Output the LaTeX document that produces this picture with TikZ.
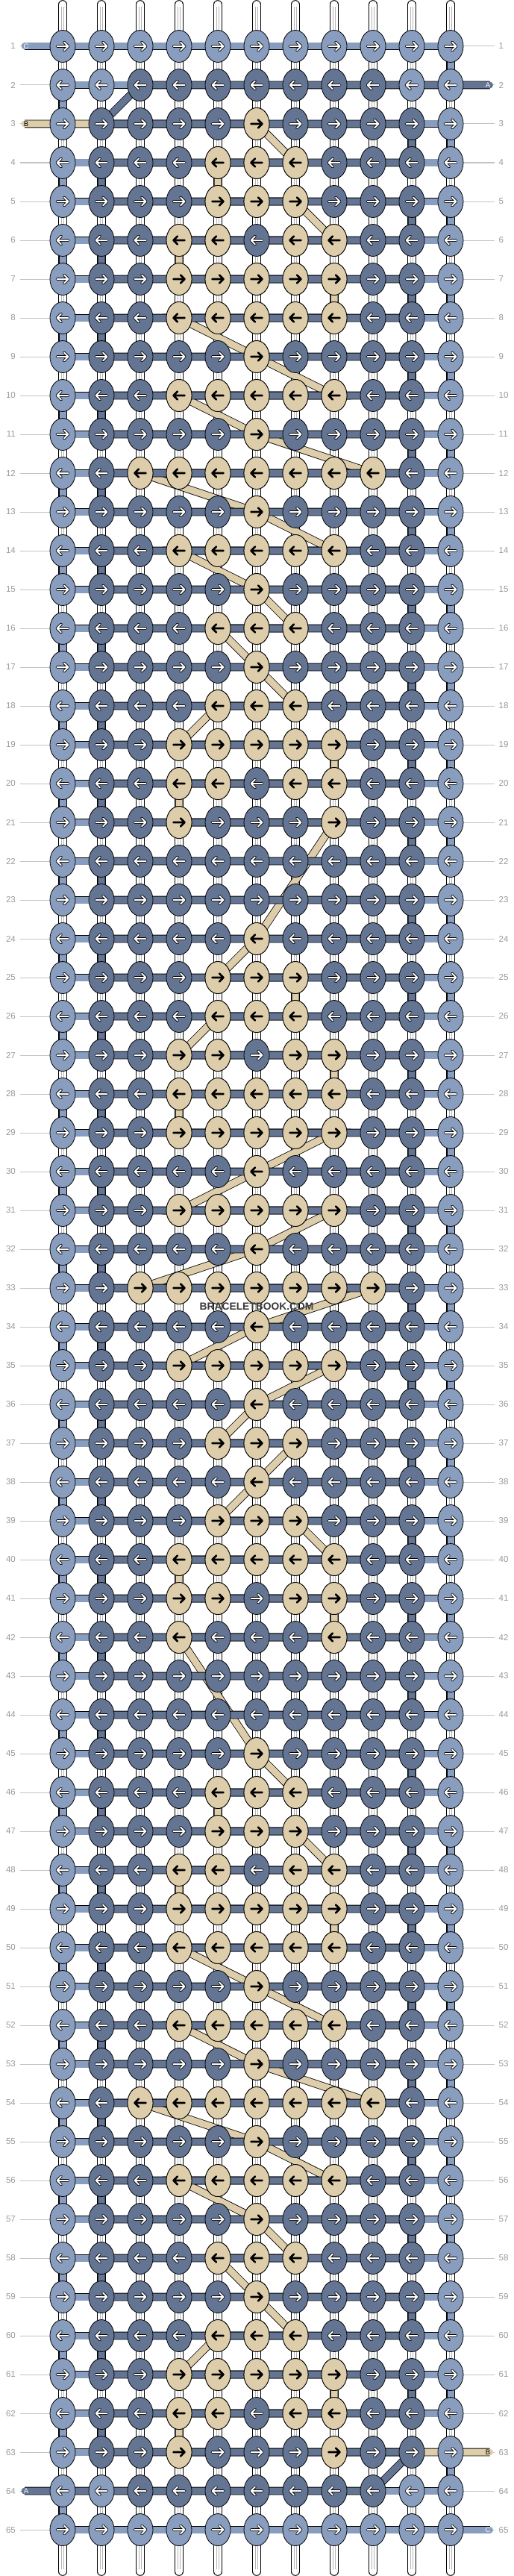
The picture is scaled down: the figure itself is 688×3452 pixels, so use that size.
\documentclass[tikz,border=0pt]{standalone}
\usepackage{fontspec}
\setmainfont{Liberation Sans}
\usetikzlibrary{shapes.geometric}
\definecolor{colC}{HTML}{899DBE}
\definecolor{colA}{HTML}{647594}
\definecolor{colB}{HTML}{DDCDAA}
\definecolor{lblgray}{HTML}{9A9A9A}
\definecolor{linegray}{HTML}{C4C4C4}
\definecolor{basegray}{HTML}{B4B4B4}
\definecolor{wmark}{HTML}{3A3A3A}
\tikzset{
  knot/.style={ellipse, draw=black, line width=0.8, minimum width=34, minimum height=43, inner sep=0},
  strand/.style={line width=9, line join=round, line cap=round, preaction={draw=black, line width=10.6}},
  arrowline/.style={line cap=round, line join=round},
  rowlbl/.style={text=lblgray, font=\fontsize{11.5}{12}\selectfont, inner sep=0},
  endlbl/.style={font=\fontsize{9.5}{10}\selectfont, inner sep=0},
  wmk/.style={font=\bfseries\fontsize{13.8}{14}\selectfont, text=wmark, inner sep=0}
}
\newcommand\warrow[2]{%
  \begin{scope}[shift={(#1)},xscale=#2]
    \draw[arrowline, black, line width=3.6] (-7.5,0)--(7.5,0) (2,-5.5)--(7.5,0)--(2,5.5);
    \draw[arrowline, white, line width=2] (-7.5,0)--(7.5,0) (2,-5.5)--(7.5,0)--(2,5.5);
  \end{scope}}
\newcommand\barrow[2]{%
  \begin{scope}[shift={(#1)},xscale=#2]
    \draw[arrowline, black, line width=2.6] (-7.5,0)--(7.5,0) (2,-5.5)--(7.5,0)--(2,5.5);
  \end{scope}}
\begin{document}
\begin{tikzpicture}[x=1pt,y=-1pt]
\useasboundingbox (0,0) rectangle (688,3452);
\fill[white] (0,0) rectangle (688,3452);
% grid coordinates
\foreach \c in {1,...,11} {
  \foreach \r in {1,...,65} {
    \coordinate (p-\c-\r) at ({344+52*(\c-6)},{62+52*(\r-1)});
  }
  \coordinate (top-\c) at ({344+52*(\c-6)},6);
  \coordinate (bot-\c) at ({344+52*(\c-6)},3446);
  \coordinate (topi-\c) at ({344+52*(\c-6)},9);
  \coordinate (boti-\c) at ({344+52*(\c-6)},3443);
}
% base strings
\foreach \c in {1,...,11} {
  \draw[black, line width=11.6, line cap=round] (top-\c) -- (bot-\c);
  \draw[white, line width=9.8, line cap=round] (top-\c) -- (bot-\c);
  \draw[basegray, line width=0.7] ([xshift=-1.8]topi-\c) -- ([xshift=-1.8]boti-\c);
  \draw[basegray, line width=0.7] ([xshift=1.8]topi-\c) -- ([xshift=1.8]boti-\c);
}
% row lines and numbers
\foreach \r in {1,...,65} {
  \pgfmathsetmacro\yy{62+52*(\r-1)}
  \coordinate (ll-\r) at (26.5,\yy);
  \coordinate (rl-\r) at (663,\yy);
  \draw[linegray, line width=1] (ll-\r) -- (p-1-\r);
  \draw[linegray, line width=1] (p-11-\r) -- (rl-\r);
  \node[rowlbl, anchor=east] (nl-\r) at (21,\yy) {\r};
  \node[rowlbl, anchor=west] (nr-\r) at (668.5,\yy) {\r};
}
% string ends
\coordinate (cS) at (33,62);
\coordinate (cE) at (656.5,3390);
\coordinate (aS) at (656.5,114);
\coordinate (aE) at (33,3338);
\coordinate (bS) at (33,166);
\coordinate (bE) at (656.5,3286);
% string C
\draw[strand, draw=colC] (cS) -- (p-1-1)
  \foreach \r [evaluate=\r as \ra using int(\r+1), evaluate=\r as \rb using int(\r+2)] in {1,3,...,63} { -- (p-11-\r) -- (p-11-\ra) -- (p-1-\ra) -- (p-1-\rb) }
  -- (p-11-65) -- (cE);
% string B
\draw[strand, draw=colB] (bS)
  \foreach \c/\r in {6/3,7/4,5/4,5/5,7/5,8/6,4/6,4/7,8/7,8/8,4/8,6/9,8/10,4/10,6/11,9/12,3/12,6/13,8/14,4/14,6/15,7/16,5/16,6/17,7/18,5/18,4/19,8/19,8/20,4/20,4/21,8/21,6/24,5/25,7/25,7/26,5/26,4/27,8/27,8/28,4/28,4/29,8/29,6/30,4/31,8/31,6/32,3/33,9/33,6/34,4/35,8/35,6/36,5/37,7/37,6/38,5/39,7/39,8/40,4/40,4/41,8/41,8/42,4/42,6/45,7/46,5/46,5/47,7/47,8/48,4/48,4/49,8/49,8/50,4/50,6/51,8/52,4/52,6/53,9/54,3/54,6/55,8/56,4/56,6/57,7/58,5/58,6/59,7/60,5/60,4/61,8/61,8/62,4/62,4/63,8/63} { -- (p-\c-\r) }
  -- (bE);
% string A
\draw[strand, draw=colA] (aS) -- (p-3-2)
  \foreach \r [evaluate=\r as \ra using int(\r+1)] in {3,5,...,61} { -- (p-2-\r) -- (p-10-\r) -- (p-10-\ra) -- (p-2-\ra) }
  -- (p-2-63) -- (p-10-63) -- (p-9-64) -- (p-3-64) -- (aE);
% end letters
\node[endlbl, text=white] (eC1) at (35,62) {C};
\node[endlbl, text=white] (eA1) at (654,114) {A};
\node[endlbl, text=black] (eB1) at (35,166) {B};
\node[endlbl, text=black] (eB2) at (654,3286) {B};
\node[endlbl, text=white] (eA2) at (35,3338) {A};
\node[endlbl, text=white] (eC2) at (654,3390) {C};
% knots
\foreach \r in {1,...,65} {
  \foreach \c in {1,...,11} {
    \pgfmathtruncatemacro\isC{((\r==1)||(\r==65)||(\c==1)||(\c==11)||(((\r==2)||(\r==64))&&((\c==2)||(\c==10))))}
    \ifnum\isC=1\relax\def\kc{colC}\else\def\kc{colA}\fi
    \node[knot, fill=\kc] (k-\c-\r) at (p-\c-\r) {};
    \ifodd\r\relax\warrow{p-\c-\r}{1}\else\warrow{p-\c-\r}{-1}\fi
  }
}
% tan knots
\foreach \r/\cols in {3/{6},4/{5,6,7},5/{5,6,7},6/{4,5,7,8},7/{4,5,6,7,8},8/{4,5,6,7,8},9/{6},10/{4,5,6,7,8},11/{6},12/{3,4,5,6,7,8,9},13/{6},14/{4,5,6,7,8},15/{6},16/{5,6,7},17/{6},18/{5,6,7},19/{4,5,6,7,8},20/{4,5,7,8},21/{4,8},24/{6},25/{5,6,7},26/{5,6,7},27/{4,5,7,8},28/{4,5,6,7,8},29/{4,5,6,7,8},30/{6},31/{4,5,6,7,8},32/{6},33/{3,4,5,6,7,8,9},34/{6},35/{4,5,6,7,8},36/{6},37/{5,6,7},38/{6},39/{5,6,7},40/{4,5,6,7,8},41/{4,5,7,8},42/{4,8},45/{6},46/{5,6,7},47/{5,6,7},48/{4,5,7,8},49/{4,5,6,7,8},50/{4,5,6,7,8},51/{6},52/{4,5,6,7,8},53/{6},54/{3,4,5,6,7,8,9},55/{6},56/{4,5,6,7,8},57/{6},58/{5,6,7},59/{6},60/{5,6,7},61/{4,5,6,7,8},62/{4,5,7,8},63/{4,8}} {
  \foreach \c in \cols {
    \node[knot, fill=colB] (t-\c-\r) at (p-\c-\r) {};
    \ifodd\r\relax\barrow{p-\c-\r}{1}\else\barrow{p-\c-\r}{-1}\fi
  }
}
% watermark
\node[wmk] (wm) at (344,1751) {BRACELETBOOK.COM};
\end{tikzpicture}
\end{document}
